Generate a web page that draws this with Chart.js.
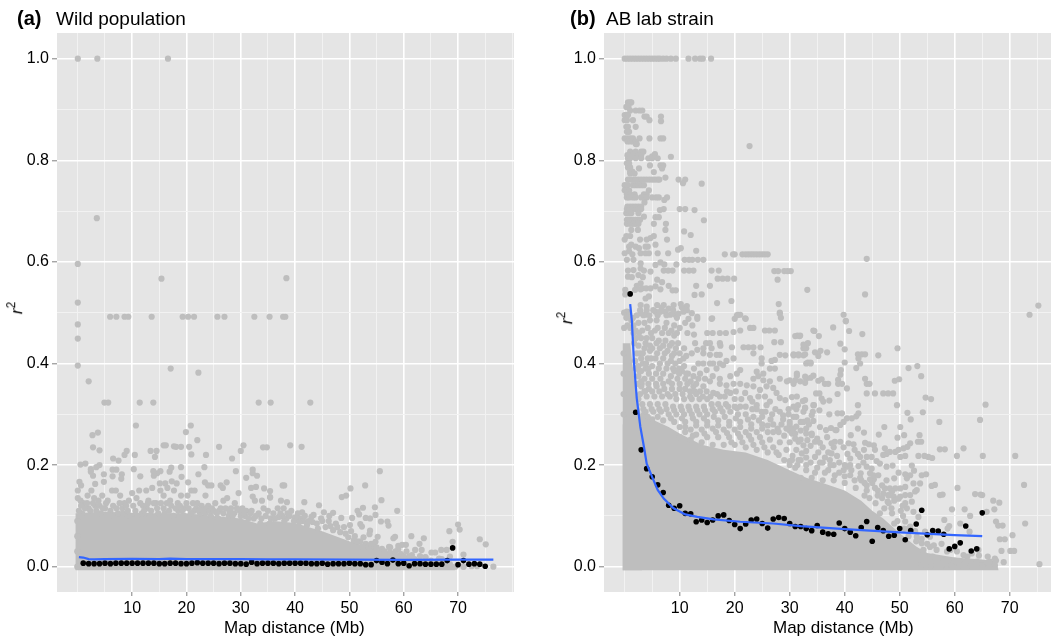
<!DOCTYPE html>
<html>
<head>
<meta charset="utf-8">
<script src="https://cdn.jsdelivr.net/npm/chart.js@4"></script>
<style>
  html,body{margin:0;padding:0;background:#fff}
  body{position:relative;width:1051px;height:638px;overflow:hidden;font-family:"Liberation Sans",Arial,sans-serif;color:#000}
  canvas{position:absolute;top:0}
  .txt{position:absolute;white-space:nowrap}
  .panel-title{font-size:19px;top:8px}
  .panel-tag{font-size:20px;font-weight:bold;top:7px}
  .x-title{font-size:17px;top:618px}
  .y-title{font-size:17px;transform:rotate(-90deg)}
  .y-title sup{font-size:12px;line-height:0}
</style>
</head>
<body>
<canvas id="wild" width="525" height="638" style="left:0;width:525px;height:638px"></canvas>
<canvas id="ab" width="530" height="638" style="left:525px;width:530px;height:638px"></canvas>
<span class="txt panel-tag" style="left:17px">(a)</span>
<span class="txt panel-title" style="left:56px">Wild population</span>
<span class="txt panel-tag" style="left:570px">(b)</span>
<span class="txt panel-title" style="left:606px">AB lab strain</span>
<span class="txt x-title" style="left:224px">Map distance (Mb)</span>
<span class="txt x-title" style="left:773px">Map distance (Mb)</span>
<span class="txt y-title" style="left:11px;top:298px"><i>r</i><sup>2</sup></span>
<span class="txt y-title" style="left:561px;top:308px"><i>r</i><sup>2</sup></span>
<script>
// axes
const xGridValues = [0, 5, 10, 15, 20, 25, 30, 35, 40, 45, 50, 55, 60, 65, 70, 75, 80];
const xTickLabels = [10, 20, 30, 40, 50, 60, 70];
const yGridValues = [0, 0.1, 0.2, 0.3, 0.4, 0.5, 0.6, 0.7, 0.8, 0.9, 1];
const yTickLabels = [0, 0.2, 0.4, 0.6, 0.8, 1];

// (a) wild population
const wildMeanX = [1,2,3,4,5,6,7,8,9,10,11,12,13,14,15,16,17,18,19,20,21,22,23,24,25,26,27,28,29,30,31,32,33,34,35,36,37,38,39,40,41,42,43,44,45,46,47,48,49,50,51,52,53,54,55,56,57,58,59,60,61,62,63,64,65,66,67,68,69,70,71,72,73,74,75];
const wildMeanY = [.007,.006,.006,.006,.007,.006,.007,.007,.007,.007,.007,.007,.007,.007,.006,.006,.007,.007,.006,.006,.007,.008,.007,.007,.007,.006,.007,.007,.006,.006,.005,.009,.006,.007,.007,.007,.006,.007,.007,.007,.007,.007,.006,.006,.007,.005,.006,.006,.006,.007,.006,.006,.004,.004,.012,.009,.006,.013,.006,.007,.002,.006,.006,.005,.005,.005,.005,.012,.037,.004,.012,.005,.006,.005,.001];
const wildSmooth = [[.2,.019],[1,.018],[2,.015],[3,.0145],[5,.015],[10,.0155],[15,.015],[17,.016],[20,.015],[25,.015],[30,.015],[35,.0145],[40,.0145],[50,.014],[60,.0135],[70,.014],[76.5,.014]];
const wildMass = [[-.45,.105],[5,.108],[10,.106],[15,.105],[20,.105],[25,.1],[30,.095],[33,.085],[36,.09],[40,.086],[45,.07],[50,.05],[55,.035],[60,.022],[65,.012],[69,.004],[69.5,-.007]];
const wildPairs = [
[0,1],[3.6,1],[16.6,1],[3.5,.686],[0,.596],[0,.52],[15.4,.567],[38.4,.568],
[5.95,.492],[7.1,.492],[8.6,.492],[9.3,.492],[13.6,.492],[19.3,.492],[20.3,.492],[21.4,.492],[25.7,.492],[27,.492],[32.5,.492],[35.3,.492],[37.8,.492],[38.2,.492],
[0,.477],[0,.449],[0,.396],[2,.365],[17.1,.39],[22.2,.382],[4.9,.323],[5.6,.323],[11.4,.323],[13.9,.323],[33.3,.323],[35.5,.323],[42.8,.323],
[10.7,.278],[20.8,.278],[19.9,.265],[2.7,.259],[3.7,.264],[22,.249],[15.8,.239],[16.2,.239],[17.7,.237],[18.1,.236],[19,.236],[20.5,.236],[26,.236],[2.8,.235],[30.5,.239],[30,.228],[34.1,.235],[34.8,.235],[39.1,.239],[41.2,.236],
[4,.229],[13.4,.228],[14.5,.228],[9,.228],[8.6,.22],[10.5,.22],[20.9,.221],[23.6,.22],[14.2,.216],[6.5,.213],[7.5,.209],[28.4,.213],[.5,.201],[1.4,.203],[4,.2],[3.4,.196],[2.4,.192],[2.4,.187],[19,.196],[23.3,.196],[6.4,.191],[7.1,.191],[10.3,.192],[17.2,.195],[16.9,.187],[15.2,.188],[14.6,.184],[13.9,.188],[14,.179],[29.1,.188],[32.2,.191],[32.2,.184],[33,.179],[22.2,.182],[19.1,.177],[11.5,.178],[8.1,.182],[8,.173],[6.4,.178],[4.8,.182],[2.8,.179],[31,.175],[27.4,.166],[20.3,.166],[23.4,.166],[24,.16],[24.6,.16],[.3,.167],[.6,.16],[3.2,.163],[4.8,.167],[15.1,.164],[16.1,.164],[17.3,.168],[18.2,.164],[26.3,.16],[26.7,.155],[31.9,.155],[32.8,.157],[34.3,.154],[35.4,.149],[0,.15],[35.4,.136],[32.2,.138],[33.9,.13],
[55.6,.188],[52.9,.16],[50.2,.154],[49.4,.14],[48.6,.137],[37.7,.16],[38,.16],[35.4,.137],[55.9,.131],[37.4,.13],[38.5,.127],[41.7,.127],[44.4,.121],[37.9,.115],[52.5,.116],[51.5,.11],[51.8,.103],[54.7,.117],[58.8,.11],[45.3,.107],[47,.106],[46.3,.1],[54.8,.102],[53,.096],[53.8,.095],[50.5,.096],[48.5,.096],[57,.089],[57.2,.081],[55.8,.089],[43.4,.102],[43,.098],[41.3,.107],[40,.092],[52,.084],[52.3,.079],[50.1,.082],[53.8,.071],[53.7,.064],[52.6,.058],[58.4,.059],[58.1,.056],[57.5,.038],[55.2,.059],[54.8,.049],[61.4,.06],[63.7,.056],[62.9,.045],[63.3,.033],[70,.083],[70.3,.073],[68.4,.07],[74,.054],[75.1,.044],[69,.049],[71,.024],[71,0],[76.5,0],[67.9,.033],[66.9,.033],[65.8,.028],[65.1,.028],[60.4,.043],[59.7,.043],[59,.041],[62.1,.033],[61.5,.023],[57.3,.039],[63,.021],[64,.019],[66.5,.016],[68.5,0],[69.5,0],[71,0],[72.5,.001],[73.5,.001],
[0,.135],[.5,.13],[1,.125],[1.8,.14],[2.5,.15],[3,.135],[3.8,.13],[4.5,.14],[5.5,.13],[6.3,.15],[7,.15],[7.8,.14],[8.6,.125],[9.4,.13],[10,.145],[10.8,.135],[11.3,.15],[12,.12],[12.6,.15],[13,.13],[13.7,.155],[14.4,.125],[15.2,.15],[15.8,.14],[16.5,.155],[17,.13],[17.7,.15],[18.4,.125],[19,.14],[19.6,.115],[20.2,.14],[20.9,.15],[21.5,.15],[22,.125],[22.8,.12],[23.5,.14],[24,.12],[24.7,.115],[25.3,.125],[26,.11],[26.8,.13],[27.5,.135],[28.2,.115],[28.9,.125],[29.6,.145],[30.3,.115],[31,.11],[31.8,.105],[32.6,.13],[33.3,.105],[34.2,.115],[35,.11],[36,.105],[36.8,.115],[37.6,.1],[38.6,.105],[39.3,.11],[40.5,.105],[41,.095],
[.8,.105],[2,.115],[3.2,.12],[4.2,.105],[5,.115],[6,.11],[7.4,.105],[8.2,.115],[9.6,.1],[10.6,.11],[11.8,.105],[12.7,.115],[13.5,.11],[14.8,.105],[15.8,.115],[16.8,.11],[17.6,.1],[18.5,.11],[19.5,.1],[20.4,.115],[21.4,.11],[22.5,.105],[23.5,.105],[24.5,.1],[25.8,.095],[26.8,.105],[27.8,.1],[28.8,.105],[29.8,.11],[30.8,.1],[32.4,.095],[33.8,.095],[35.5,.095],[37,.098],[38.4,.095],[40,.097],[41.5,.09],[42.5,.09],[44,.085],[45,.09],[46.5,.08],[47.5,.085],[49,.078],[50.3,.07],[51,.06],[52,.05],[53,.045],[54.5,.04],[56,.035],[59,.035],[60.5,.03],[64,.018],[67,.015],[68.5,.02],
[.2,.11],[.6,.12],[1.3,.115],[1.7,.125],[2.3,.11],[2.8,.125],[3.4,.11],[4,.12],[4.6,.115],[5.2,.125],[5.8,.1],[6.5,.12],[7.1,.115],[7.7,.125],[8.3,.105],[8.9,.12],[9.2,.11],[10.2,.12],[10.9,.1],[11.5,.125],[12.2,.11],[12.9,.125],[13.3,.1],[14,.125],[14.6,.115],[15.3,.125],[16,.105],[16.4,.125],[17.2,.12],[18,.115],[18.8,.12],[19.2,.11],[20,.125],[20.8,.105],[21.2,.125],[21.8,.115],[22.3,.11],[23,.11],[23.7,.115],[24.3,.11],[25,.11],[25.6,.105],[26.3,.115],[27.2,.115],[27.9,.11],[28.5,.1],[29.3,.115],[30,.1],[30.6,.105],[31.4,.095],[32,.11],[32.8,.1],[33.6,.085],[34.6,.1],[35.3,.085],[36.3,.095],[37.3,.105],[38,.09],[39,.1],[39.8,.09],[40.8,.088],[41.8,.1],[42.2,.082],[43.2,.088],[44.2,.075],[44.8,.095],[45.6,.078],[46.2,.09],[47,.072],[47.8,.078],[48.3,.068],[49.3,.065],[49.8,.058],[50.8,.052],[51.4,.05],[52.4,.04],[53.5,.04],[54,.045],[55,.038],[56.5,.03],[57.5,.028],[58.5,.03],[59.5,.025],[60,.02],[61,.02],[62,.015],[63,.012],[65,.012],[66,.01],[67.5,.008],[68.5,.005],[-.1,0],[-.1,.03],[-.1,.06],[-.1,.09]
];

// (b) AB lab strain
const abMeanX = [1,2,3,4,5,6,7,8,9,10,11,12,13,14,15,16,17,18,19,20,21,22,23,24,25,26,27,28,29,30,31,32,33,34,35,36,37,38,39,40,41,42,43,44,45,46,47,48,49,50,51,52,53,54,55,56,57,58,59,60,61,62,63,64,65];
const abMeanY = [.537,.304,.23,.193,.177,.161,.146,.121,.115,.12,.105,.104,.0885,.092,.087,.092,.1,.102,.091,.083,.075,.084,.092,.094,.085,.076,.094,.097,.095,.085,.079,.079,.075,.071,.081,.068,.065,.064,.086,.075,.068,.061,.077,.089,.05,.077,.071,.06,.062,.075,.053,.071,.084,.111,.063,.071,.07,.064,.035,.04,.047,.08,.031,.035,.106];
const abSmooth = [[1,.517],[1.3,.485],[1.7,.4],[2.2,.331],[2.85,.275],[3.5,.236],[4,.203],[5.1,.174],[6,.151],[7.1,.134],[8.9,.115],[11,.103],[13.2,.098],[16.2,.093],[21,.0885],[27,.085],[32,.08],[40,.074],[50,.0675],[60,.062],[65,.06]];
const abMass = [[-.4,.28],[2,.29],[4,.295],[6,.285],[8,.275],[10,.262],[14,.24],[18,.23],[22,.225],[26,.21],[30,.19],[33,.175],[36,.165],[40,.15],[43,.13],[45,.11],[47,.095],[50,.066],[53,.04],[55,.027],[60,.018],[65,.014],[67.5,.01],[68,-.007]];
const abColumn = [[-.4,.44],[1,.44],[1.6,.38],[2.6,.32],[3.2,.28]];
const abPairsTop = [
[0,1],[.5,1],[1,1],[1.5,1],[2,1],[2.5,1],[3,1],[3.5,1],[4,1],[4.5,1],[5,1],[5.5,1],[6,1],[6.4,1],[7,1],[7.6,1],[8.4,1],[9.3,1],[11.6,1],[12.8,1],[13.7,1],[14.2,1],[15.7,1],
[.6,.914],[1,.914],[1.2,.914],[.3,.905],[.7,.905],[1,.898],[2,.898],[2.7,.898],[3.2,.898],[0,.889],[.3,.889],[.6,.889],[3.6,.886],[4,.886],[6.6,.886],[0,.879],[.4,.879],[1.5,.879],[4.5,.879],[6.6,.877],[.3,.866],[.6,.866],[2,.866],[.4,.856],[.8,.856],
[0,.843],[.5,.843],[1,.843],[1.5,.843],[2.7,.843],[4.5,.843],[6.5,.843],[7,.843],[.5,.837],[1,.837],[1.5,.837],[2,.837],[2,.832],[2.2,.832],[22.7,.828],[1,.817],[2,.817],[3,.817],[3.4,.817],
[.5,.81],[1,.81],[1.5,.81],[2.5,.81],[3,.81],[5,.808],[5.5,.812],[8.4,.807],[.6,.804],[1,.804],[2,.804],[3,.804],[4.3,.804],[5,.804],[6,.804],[.4,.794],[.8,.794],[4.6,.79],[6.5,.79],[7,.79],[.6,.786],[1,.786],[2.6,.784],[6.8,.784],[1,.778],[1.4,.778],[5.3,.777],[1,.774],[1.8,.774],
[.6,.762],[1,.762],[1.5,.762],[2,.762],[2.5,.762],[3,.762],[3.5,.762],[4,.762],[4.5,.762],[5,.762],[5.5,.762],[6,.762],[6.3,.762],[7.4,.766],[9.8,.762],[11,.762],[10.6,.755],[14,.754],
[0,.751],[.5,.751],[1.5,.751],[2,.751],[2.5,.751],[3,.751],[3.5,.751],[0,.741],[.4,.741],[.8,.741],[4.4,.741],[.4,.733],[1,.733],[1.8,.733],[3.5,.733],[4,.733],[.4,.727],[.8,.727],[1.5,.727],[2,.727],[3,.727],[3.5,.727],[4,.727],[5,.727],[5.7,.727],[6.2,.727],[7.7,.727],[7.2,.722],[3.6,.717],
[.5,.709],[1,.709],[1.5,.709],[2,.709],[2.5,.709],[3,.709],[.4,.704],[.9,.704],[1.4,.704],[2,.704],[2.5,.704],[3,.704],[10,.704],[11,.704],[12.7,.702],[7.1,.704],[6.4,.702],[.3,.696],[.8,.696],[1.2,.696],[2.5,.696],[5.6,.688],[6.2,.688],[3.5,.689],
[.4,.683],[.8,.683],[1.2,.683],[1.6,.683],[2,.683],[2.4,.683],[2.8,.683],[14.4,.682],[5.3,.675],[7.5,.675],[.4,.675],[1,.675],[1.5,.675],[2,.675],[2.5,.675],[1.2,.663],[2.4,.663],[7.4,.663],[10.8,.66],[12,.653],
[.3,.651],[1,.651],[0,.644],[5.3,.651],[4.7,.647],[2.8,.644],[4,.644],[7.7,.644],[4.2,.63],[3.8,.63],[.8,.63],[1.2,.634],[2,.63],[2.6,.627],[5.6,.634],
[0,.617],[.8,.621],[1.4,.615],[2.9,.617],[3.8,.617],[4.4,.617],[6,.617],[7.9,.617],[9.7,.624],[10.2,.627],[13,.622],
[18.2,.615],[19.7,.615],[20,.615],[21.4,.615],[22,.615],[22.5,.615],[23,.615],[23.5,.615],[24,.615],[24.5,.615],[25,.615],[25.5,.615],[26,.615],
[.4,.604],[1.6,.604],[2.9,.597],[10.9,.604],[11.7,.604],[12.3,.604],[13.3,.604],[14.3,.604],[5.6,.594],[6.5,.599],[7.2,.595],[9.4,.595],
[15.8,.583],[17.1,.583],[27.2,.582],[27.9,.582],[29,.582],[29.6,.582],[30.2,.582],[10.8,.583],[11.7,.583],[12.5,.583],[7.1,.583],[7.9,.583],[8.7,.583],[.6,.583],[1.6,.584],[2.9,.587],[3.5,.583],[4.7,.581],
[27.8,.565],[16.9,.567],[17.8,.567],[18.7,.567],[19.9,.567],[.6,.571],[1.3,.57],[2.5,.574],[3.3,.57],[5.9,.565],[6.8,.56],[13,.553],[15.5,.553],[2.2,.553],[2.9,.558],[3.2,.548],
[.1,.545],[1.9,.545],[2.9,.546],[3.9,.548],[4.7,.548],[5.6,.552],[6.5,.546],[8,.553],[8.7,.544],[9.3,.544],[12.7,.535],[14,.536],[4.4,.532],[3.8,.528],[.1,.536],
[16.8,.519],[19.4,.523],[28,.517],[28.2,.5],[28.4,.49],[20.6,.496],[21,.496],[21.9,.489],[15.9,.489],[13.2,.492],
[2.9,.515],[4,.512],[5.9,.515],[7.1,.515],[8,.508],[8.9,.515],[10.2,.517],[11.3,.513],[5.6,.502],[6.5,.502],[7.4,.502],[8.3,.496],[9.2,.496],[10.7,.502],[12.2,.499],[2.9,.499],[3.8,.496],[.4,.502],[.4,.492]
];
const abPairsMid = [
[28.2,.498],[20.4,.495],[20,.488],[22,.488],[15.8,.488],[13.2,.488],[11.6,.488],[22.8,.47],[23.4,.47],[19.8,.462],[21,.465],[15,.46],[16,.46],[17.3,.46],[18.4,.46],[25.5,.465],[26.3,.465],[27.3,.465],[31.4,.455],[31.9,.455],[34.3,.465],[12.6,.457],[12.8,.44],[14.8,.44],[15.5,.44],[17.3,.44],[17.4,.435],[27.2,.442],[28.4,.442],[14.3,.43],[15.8,.43],[19.5,.432],[33,.43],[32.5,.43],
[21.6,.432],[22.5,.432],[23.4,.432],[23.4,.42],[24.7,.432],[10.7,.41],[12.2,.42],[13.2,.427],[14.3,.42],[15.5,.417],[16.7,.417],[17.3,.417],[28.2,.417],[29.2,.416],[30.7,.416],[31.6,.416],[32.5,.416],[27.3,.407],[26.7,.405],[24.9,.41],[24.9,.4],[19.8,.41],[18.5,.405],[17.3,.4],[16.1,.4],
[13.4,.4],[14.3,.4],[15.5,.4],[33,.4],[33.8,.4],[8.8,.39],[9.9,.39],[14.9,.387],[16.7,.39],[17.9,.397],[21,.387],[26.4,.39],[27.3,.39],[24,.384],[25.2,.38],[23.4,.37],[24.3,.375],[13.7,.38],[12.5,.375],[20.4,.38],[19.2,.375],[17.3,.37],[28.2,.37],[29.5,.365],[30.7,.36],[31.9,.365],[33,.37],[34.3,.376],[31.3,.376],
[26.4,.365],[25.8,.355],[27,.352],[27.6,.342],[28.2,.332],[29.2,.328],[17.3,.36],[18.5,.357],[19.8,.36],[21,.36],[22.2,.357],[23.4,.355],[24.6,.348],[25.2,.367],[21.9,.342],[22.8,.332],[15.5,.365],[14.3,.355],[12.5,.355],[11.9,.345],[13.7,.345],[16.1,.342],[17.3,.335],[19.2,.342],[24.3,.335],[25.5,.335],[25.8,.318],[24,.318],[31.3,.335],[32.8,.328],[34.3,.318],[30.7,.315],[20.4,.312],[21,.315],[28.2,.305],[28.8,.298],[32.8,.312],[34,.298],[24,.31],[24.9,.305],
[1.5,.49],[2.8,.505],[4,.505],[5.2,.505],[6.7,.51],[8.8,.505],[10.4,.51],[11.3,.505],[9.5,.49],[11,.48],[12.3,.475],[2.5,.48],[3.6,.48],[4.6,.485],[5.8,.485],[7.6,.48],[9,.475],[10,.47],[2,.465],[3.2,.465],[4.2,.47],[5.5,.465],[6.8,.46],[8,.46],[9,.455],[3,.45],[4,.45],[5,.45],[6.2,.445],[7.4,.445],[8.6,.44],[9.7,.44],[2.5,.435],[3.6,.43],[5,.43],[6.4,.43],[7.8,.425],[9,.42],[10,.42],[3,.41],[4.2,.41],[5.6,.41],[7,.41],[8.4,.405],[10,.405],[2.5,.395],[3.8,.39],[5,.395],[6.2,.39],[7.6,.39],[9,.385],[10.4,.385],[11.5,.38],[2.5,.375],[3.6,.37],[5,.37],[6.5,.37],[8,.365],[9.6,.37],[11,.37],[12,.365],[13,.36],
[3,.355],[4.4,.35],[5.8,.355],[7.2,.35],[8.6,.35],[10,.35],[11,.35],[2.8,.34],[4,.335],[5.4,.335],[6.8,.335],[8.2,.335],[9.4,.33],[10.8,.33],[12.2,.33],[13.6,.33],[15,.33],[3.2,.32],[4.6,.32],[6,.32],[7.4,.32],[8.8,.315],[10.2,.315],[11.6,.315],[13,.315],[14.4,.315],[15.8,.32],[17,.32],[18.4,.32],[3.8,.305],[5.2,.305],[6.6,.305],[8,.3],[9.4,.3],[10.8,.3],[12.2,.3],[13.6,.3],[15,.3],[16.4,.305],[17.8,.305],[19.2,.305],[20.6,.3],[22,.3],[23.4,.295],[25,.295],[26.5,.29],[5,.29],[7,.288],[9,.285],[11,.285],[13,.285],[15,.285],[17,.288],[19,.285],[21,.285],[23,.28],[25,.28],[27,.28],[28.5,.28],[30,.285],[32,.285],[33.5,.28],[12,.27],[14,.27],[16,.272],[18,.27],[20,.27],[22,.265],[24,.265],[26,.265],[28,.265],[30,.268],[32,.268],[34,.262],
[31,.195],[33,.19],[35,.195],[37,.19],[39,.185],[41,.18],[43,.17],[45,.165],[32,.175],[34,.175],[36,.17],[38,.17],[40,.165],[42,.155],[44,.15],[46,.15],[48,.14],[30,.2],[28,.22],[26,.225],[24,.23],[22,.235],[20,.24],[18,.24],[16,.24],[14,.245],[12,.25],[10,.255],[27,.235],[29,.21],[25,.245],[23,.25],[21,.255],[19,.255],[17,.255],[15,.255],[13,.26],[11,.265],[33,.215],[36,.205],[38,.2],[40,.2]
];
const abPairsRight = [
[37.9,.471],[40.2,.483],[40.8,.464],[43.2,.458],[34.5,.464],[35.3,.454],[31,.454],[31.8,.454],[33.3,.44],[32.5,.437],[39.2,.439],[40,.428],[49.6,.43],[34.6,.422],[35.6,.425],[36.8,.422],[35.2,.415],[30.7,.418],[31.6,.418],[32.8,.418],[42.4,.418],[43.1,.418],[43.7,.418],[42.5,.41],[46.1,.416],[42.8,.4],[42.1,.391],[40,.402],[33.3,.402],[33.8,.402],[51.6,.391],[53.2,.395],[53.9,.375],[39.3,.387],[39.2,.378],[38.8,.368],[31.3,.38],[31,.367],[32.8,.374],[33.8,.372],[35.2,.366],[35.8,.369],[30,.367],[43.7,.37],[44,.36],[44.5,.36],[49.1,.366],[49.9,.369],[36.4,.36],[37,.36],[38.8,.36],[39.5,.36],[40.4,.351],[32.8,.362],[38.7,.34],[44,.341],[45.5,.341],[47,.341],[47.9,.341],[48.8,.341],[34.8,.341],[35.4,.341],[30.4,.334],[54.7,.333],[55.7,.33],[35.8,.331],[36.1,.325],[37.2,.327],[32.4,.326],[32.8,.313],[32.5,.305],[31.5,.318],[34.4,.318],[34.2,.305],[35.4,.308],[42.4,.318],[49.5,.318],[65.6,.319],[37.2,.3],[38.7,.302],[39.5,.302],[30.7,.295],[33.2,.288],[34.3,.287],[32.5,.285],[40.4,.292],[41.3,.292],[42.1,.296],[42.5,.302],[39.8,.285],[39.2,.279],[38.5,.269],[51.4,.303],[52,.29],[54.2,.304],[57.2,.285],[64.6,.289],[50.1,.275],[47.2,.275],[37.5,.273],[38.3,.269],[42.4,.272],[30,.279],[30.7,.272],[30.4,.262],[34,.259],[33.2,.249],[36.6,.269],[41.1,.259],[43.5,.264],[46.2,.26],[50.8,.259],[49.6,.254],[53.6,.259],[53.3,.246],[53.9,.246],[51.9,.243],[51.4,.236],[50.7,.233],[31,.252],[31.6,.246],[32.5,.239],[34.6,.246],[35.5,.244],[37.6,.243],[38.2,.246],[39.2,.246],[40.7,.243],[41.6,.241],[43.7,.244],[44.4,.241],[45.3,.239],[45.5,.23],[47.3,.233],[49.2,.226],[49.8,.23],[48.2,.226],[47.6,.222],[50.1,.216],[57.3,.231],[58.2,.231],[61.6,.233],[60.4,.218],[65.1,.218],[71,.218],[53.4,.218],[54.5,.218],[55.2,.216],[55.9,.214],[51,.218],[47,.22],[42.8,.216],[44,.216],[44.9,.216],[41,.213],[40.4,.197],[39.8,.19],[37.6,.223],[37.3,.21],[36.4,.215],[34.6,.216],[32.2,.223],[31.6,.21],[30.4,.21],
[45.8,.208],[46.4,.203],[44.9,.193],[44,.197],[42.9,.184],[44.6,.184],[45.2,.18],[47.6,.197],[48.7,.199],[52.2,.199],[51,.182],[52.6,.189],[51.9,.18],[54,.18],[54.8,.182],[51.3,.174],[49.8,.185],[49,.174],[47.6,.17],[46.1,.18],[56.4,.161],[55.8,.159],[53.7,.164],[52.5,.164],[53.1,.151],[51,.157],[50.1,.154],[49.2,.154],[48.2,.154],[47.3,.154],[60.5,.155],[72.6,.161],[57.3,.141],[57.8,.142],[63.7,.143],[64.7,.142],[65,.141],[52.8,.148],[51.9,.141],[51,.141],[50.1,.138],[48.9,.138],[47.9,.141],[47,.144],[67,.13],[68.1,.126],[67.2,.113],[65.8,.108],[59.5,.113],[61.8,.113],[62.8,.1],[58.1,.092],[59,.08],[58.7,.075],[61,.085],[62.7,.069],[67.5,.089],[67.9,.081],[68.7,.081],[72.8,.085],[70.5,.062],[68.2,.054],[69.1,.054],[70.1,.031],[70.8,.031],[68.5,.031],[68.9,.009],[75.4,.005],[67.3,.016],[66.4,.01],[64.3,.033],[63.1,.026],[61.6,.023],[59.2,.033],[56.7,.033],[55.5,.039],[54.3,.033],[54,.046],[55.5,.059],[54.6,.069],[53.1,.059],[51.9,.079],[51,.089],[53.4,.098],[52.5,.108],[51.3,.115],[52.2,.128],[51,.125],[49.8,.134],
[67.3,.003],[65,.003],[62.9,.003],[60.8,.003],[59.4,.003],[57.6,.003],[55.7,.003],[53.9,.003],[75.2,.514],[73.6,.496],[44,.606],[43.7,.536],[33.2,.545],[39.8,.496],[40.2,.484]
];
const abPairsFill = [
[-.1,.5],[.3,.49],[.8,.5],[1.2,.485],[-.1,.47],[.5,.475],[1,.47],[1.6,.475],[2.1,.45],[2.6,.46],[1.7,.44],[2.2,.42],[2.8,.42],[2,.39],[2.7,.385],[3.3,.4],[4.3,.39],[3.1,.36],[3.7,.345],[-.2,.42],[-.2,.38],[-.2,.34],[-.2,.3],
[2.2,.495],[3.4,.495],[4.5,.495],[6,.495],[7.6,.495],[9.8,.498],[1.6,.46],[1.9,.405],[2.4,.36],[2.5,.33],[3.5,.3],[4.2,.295],
[4.8,.46],[6,.47],[7.3,.47],[8.5,.465],[9.5,.46],[11.4,.46],[3.8,.44],[4.6,.435],[5.8,.44],[7,.435],[8.2,.435],[9.3,.43],[10.8,.43],[3.3,.42],[4.6,.425],[5.9,.42],[7.3,.42],[8.6,.415],[11.2,.415],[3.9,.4],[4.8,.41],[6.4,.4],[7.8,.4],[9.2,.4],[10.8,.395],
[3,.385],[4.4,.38],[5.7,.38],[7,.38],[8.4,.375],[9.9,.38],[11.2,.38],[12.6,.39],[13.4,.37],[14.6,.37],[16,.375],[3,.365],[4.3,.36],[5.7,.36],[7,.36],[8.6,.36],[10,.36],[11.4,.36],[12.7,.345],[14.9,.345],[18.6,.345],[20.2,.345],[3.6,.345],[5,.345],[6.3,.345],[7.8,.34],[9.2,.34],[10.5,.34],[11.9,.335],[13,.34],[14.2,.335],[15.6,.335],[16.8,.34],[18.2,.335],[20,.33],[21.2,.33],[23.2,.325],[26.4,.325],[27.4,.31],[29.8,.31],[31.2,.31],
[3.4,.31],[4.9,.31],[6.3,.31],[7.6,.31],[9,.308],[10.4,.308],[11.8,.308],[13.2,.308],[14.6,.308],[16,.31],[17.4,.312],[18.8,.315],[20,.315],[22,.315],[23.2,.31],[25.6,.305],[26.8,.3],[28.8,.29],[29.8,.3],[31.2,.295],[3.2,.295],[6,.295],[8.4,.292],[10.4,.292],[12.4,.292],[14.4,.292],[16.2,.295],[18.2,.295],[20.2,.292],[22.4,.29],[24.4,.288],[26,.278],[27.8,.272],[29.4,.272],[31.2,.276],[33,.272],[35.5,.275],[10,.275],[11,.275],[13,.278],[15,.278],[17,.278],[19,.278],[21,.275],[23,.272],[25,.272],[27,.265],[29,.258],[31,.262],[33,.262],[35,.252],[36.8,.255],[12.4,.258],[14.5,.262],[16.6,.265],[18.6,.263],[20.6,.262],[22.6,.258],[24.6,.255],[26.4,.25],[28.2,.245],[30,.245],[32,.25],[33.8,.238],[36,.235],[38,.235],[39.8,.235],[41.8,.23],[43.5,.23],[19.4,.245],[21.4,.245],[23.4,.24],[25.4,.235],[27.6,.225],[29.4,.23],[31.2,.23],[33,.228],[35.2,.225],[37,.225],[38.6,.218],[40.5,.222],[42.4,.222],[30.5,.218],[32,.21],[33.8,.205],[35.5,.205],[37.4,.2],[39,.205],[41,.2],[42.5,.198],[43.4,.205],[30,.208],[31.4,.2],[33,.2],[34.6,.185],[36.4,.185],[38.2,.18],[40,.178],[41.8,.17],[43.6,.165],[45.3,.172],[46.8,.16],[41.2,.19],[42.8,.175],[44.6,.172],[44,.16],[45.5,.155],[46.8,.135],[48,.125],[44.5,.135],[43.6,.14],[45.6,.125],[47.2,.115],[48.6,.105],[49.6,.09],[50.2,.11],[50.6,.1],[48.5,.115],[46.4,.105],[49,.085],[51.6,.075],[52.8,.07],[54,.055],[55,.045],[56.2,.042],[57.6,.045],[58.6,.03],[60.4,.03],[62.3,.02],[64.4,.022],[66,.02],[67.5,.012],[56,.02],[58,.012],[60,.012],[62,.01],[64,.01],[66,.008],[53,.05],[51.6,.06],[50.8,.075],[50.5,.12],[49,.13],[47.8,.128],[46,.14],[48.6,.148]
];

const GREY = '#bebebe';

function panelChart(id, cfg) {
  return new Chart(document.getElementById(id), {
    type: 'scatter',
    data: { datasets: [
      { data: cfg.smooth, showLine: true, borderColor: '#3366ff', borderWidth: 2.2, pointRadius: 0, order: 0 },
      { data: cfg.meanX.map((x, i) => [x, cfg.meanY[i]]), backgroundColor: '#000', pointRadius: 2.8, pointBorderWidth: 0, order: 1 },
      { data: cfg.pairs, backgroundColor: GREY, pointRadius: 3.1, pointBorderWidth: 0, order: 2 },
      ...cfg.masses.map(m => ({ data: m, showLine: true, borderWidth: 0, pointRadius: 0, backgroundColor: GREY, fill: { value: -0.007 }, order: 3 })),
    ]},
    options: {
      responsive: false,
      animation: false,
      events: [],
      layout: { padding: { top: 33, right: cfg.rightPad, bottom: 0, left: 0 } },
      plugins: { legend: { display: false }, tooltip: { enabled: false } },
      scales: {
        x: {
          type: 'linear', min: cfg.xMin, max: cfg.xMax,
          afterBuildTicks: s => { s.ticks = xGridValues.filter(v => v <= cfg.xMax).map(v => ({ value: v })); },
          afterFit: s => { s.height = 46; s.paddingLeft = 0; s.paddingRight = 0; },
          border: { display: false },
          grid: {
            color: c => xTickLabels.includes(c.tick.value) ? '#fff' : '#f2f2f2',
            lineWidth: c => xTickLabels.includes(c.tick.value) ? 1.6 : 1,
            tickColor: c => xTickLabels.includes(c.tick.value) ? '#7f7f7f' : 'rgba(0,0,0,0)',
            tickWidth: 1, tickLength: 4,
          },
          ticks: {
            autoSkip: false, maxRotation: 0, padding: 3, color: '#000',
            font: { family: '"Liberation Sans"', size: 16 },
            callback: v => xTickLabels.includes(v) ? String(v) : '',
          },
        },
        y: {
          type: 'linear', min: -0.0498, max: 1.0506,
          afterBuildTicks: s => { s.ticks = yGridValues.map(v => ({ value: v })); },
          afterFit: s => { s.width = cfg.yWidth; s.paddingTop = 0; s.paddingBottom = 0; },
          border: { display: false },
          grid: {
            color: c => yTickLabels.includes(c.tick.value) ? '#fff' : '#f2f2f2',
            lineWidth: c => yTickLabels.includes(c.tick.value) ? 1.6 : 1,
            tickColor: c => yTickLabels.includes(c.tick.value) ? '#7f7f7f' : 'rgba(0,0,0,0)',
            tickWidth: 1, tickLength: 5,
          },
          ticks: {
            autoSkip: false, padding: 3, color: '#000',
            font: { family: '"Liberation Sans"', size: 16 },
            callback: v => yTickLabels.includes(v) ? v.toFixed(1) : '',
          },
        },
      },
    },
    plugins: [{
      id: 'panelBg',
      beforeDraw(chart) {
        const a = chart.chartArea;
        chart.ctx.save();
        chart.ctx.fillStyle = '#e5e5e5';
        chart.ctx.fillRect(a.left, a.top, a.right - a.left, a.bottom - a.top);
        chart.ctx.restore();
      },
    }],
  });
}

panelChart('wild', {
  meanX: wildMeanX, meanY: wildMeanY, smooth: wildSmooth, pairs: wildPairs, masses: [wildMass],
  xMin: -3.83, xMax: 80.3, yWidth: 57, rightPad: 11,
});
panelChart('ab', {
  meanX: abMeanX, meanY: abMeanY, smooth: abSmooth, pairs: [...abPairsTop, ...abPairsMid, ...abPairsRight, ...abPairsFill], masses: [abMass, abColumn],
  xMin: -3.76, xMax: 77.5, yWidth: 79, rightPad: 0,
});
</script>
</body>
</html>
